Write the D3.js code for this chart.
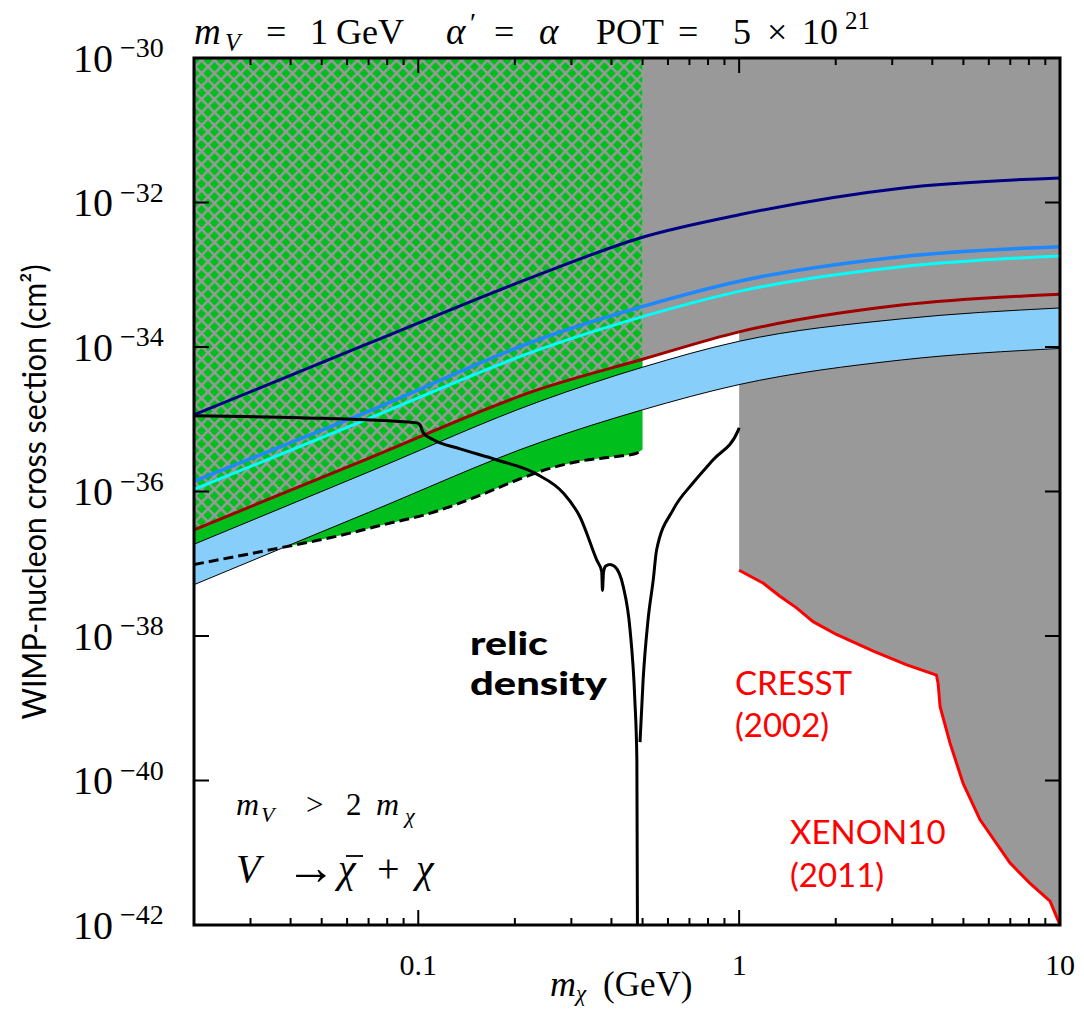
<!DOCTYPE html>
<html>
<head>
<meta charset="utf-8">
<script src="https://cdn.jsdelivr.net/npm/d3@7"></script>
<style>
body { margin: 0; background: #fff; }
svg { display: block; }
</style>
</head>
<body>
<div id="chart"></div>
<script>
// sensitivity curves, sampled at the same masses (GeV)
const massPts = [0.02, 0.07, 0.24, 0.5, 1, 3.2, 10]
const navyLine = [1.15e-35, 1.12e-34, 1.02e-33, 3.31e-33, 6.76e-33, 1.58e-32, 2.19e-32]
const blueLine = [1.38e-36, 1.29e-35, 1.29e-34, 3.63e-34, 8.13e-34, 1.78e-33, 2.45e-33]
const cyanLine = [1.07e-36, 1.02e-35, 9.33e-35, 2.63e-34, 5.89e-34, 1.29e-33, 1.82e-33]
const redLine = [2.95e-37, 2.88e-36, 2.63e-35, 6.76e-35, 1.62e-34, 3.80e-34, 5.37e-34]
const bandTop = [1.86e-37, 1.86e-36, 1.78e-35, 5.25e-35, 1.20e-34, 2.45e-34, 3.47e-34]
const bandBottom = [5.13e-38, 5.13e-37, 4.79e-36, 1.35e-35, 3.02e-35, 6.61e-35, 9.55e-35]

// lower (dashed) edge of the green region
const greenMass = [0.02, 0.0371, 0.0557, 0.0778, 0.109, 0.152, 0.212, 0.257, 0.319, 0.404, 0.479, 0.5]
const greenLow = [9.77e-38, 1.66e-37, 2.40e-37, 3.47e-37, 5.01e-37, 8.51e-37, 1.55e-36, 2.09e-36, 2.63e-36, 3.02e-36, 3.39e-36, 3.80e-36]

// CRESST / XENON10 limit
const cresstMass = [1, 1.19, 1.34, 1.51, 1.70, 2.01, 2.62, 3.33, 4.12, 4.17, 4.23, 4.54, 4.99, 5.63, 6.98, 8.05, 9.31, 10]
const cresstSigma = [8.13e-38, 5.37e-38, 3.55e-38, 2.45e-38, 1.58e-38, 1.05e-38, 6.17e-39, 3.98e-39, 2.88e-39, 2.2e-39, 1.05e-39, 3.31e-40, 9.12e-41, 2.88e-41, 7.24e-42, 3.80e-42, 2.14e-42, 1e-42]

// relic density curve, two branches around the resonance
const relicMass = [0.02, 0.0428, 0.0989, 0.1013, 0.1037, 0.111, 0.135, 0.175, 0.234, 0.283, 0.319, 0.360, 0.373, 0.375, 0.378, 0.384, 0.396, 0.410, 0.435, 0.457, 0.473, 0.480, 0.482]
const relicSigma = [1.12e-35, 1.05e-35, 8.91e-36, 8.32e-36, 6.46e-36, 5.25e-36, 3.89e-36, 2.75e-36, 1.74e-36, 9.55e-37, 4.47e-37, 1.12e-37, 7.76e-38, 4.27e-38, 7.76e-38, 9.33e-38, 9.77e-38, 9.12e-38, 4.90e-38, 1.23e-38, 1.32e-39, 1.95e-40, 1e-42]
const relicMass2 = [0.491, 0.502, 0.520, 0.540, 0.553, 0.623, 0.719, 0.830, 0.994, 1.0]
const relicSigma2 = [3.39e-40, 2.45e-39, 1.66e-38, 6.03e-38, 1.55e-37, 5.62e-37, 1.32e-36, 2.75e-36, 7.08e-36, 7.6e-36]

const xTickVals = [0.1, 1, 10]
const xTickLabels = ["0.1", "1", "10"]
const yTickExps = [-30, -32, -34, -36, -38, -40, -42]

const width = 1084
const height = 1010
const margin = { left: 194, right: 24, top: 58, bottom: 85 }

const x = d3.scaleLog().domain([0.02, 10]).range([margin.left, width - margin.right])
const y = d3.scaleLog().domain([1e-42, 1e-30]).range([height - margin.bottom, margin.top])

const zip = (ms, ss) => ms.map((m, i) => [m, ss[i]])

let svg = d3.select("#chart")
  .append("svg")
  .attr("width", width)
  .attr("height", height)

let defs = svg.append("defs")
defs.append("clipPath").attr("id", "plot")
  .append("rect")
  .attr("x", x(0.02)).attr("y", y(1e-30))
  .attr("width", x(10) - x(0.02)).attr("height", y(1e-42) - y(1e-30))
defs.append("clipPath").attr("id", "hatchClip")
  .append("rect")
  .attr("x", x(0.02)).attr("y", 0)
  .attr("width", x(0.5) - x(0.02)).attr("height", height)
defs.append("clipPath").attr("id", "greyClip")
  .append("rect")
  .attr("x", x(0.5)).attr("y", 0)
  .attr("width", x(1) - x(0.5) + 2).attr("height", height)

const s = 13 / Math.SQRT2
let pat = defs.append("pattern")
  .attr("id", "hatch")
  .attr("patternUnits", "userSpaceOnUse")
  .attr("width", s).attr("height", s)
  .attr("patternTransform", "rotate(45)")
pat.append("rect").attr("width", s).attr("height", s).attr("fill", "#00bf1c")
pat.append("rect").attr("width", s).attr("height", 2.5).attr("fill", "#999999")
pat.append("rect").attr("width", 2.5).attr("height", s).attr("fill", "#999999")

const line = d3.line().x(d => x(d[0])).y(d => y(d[1])).curve(d3.curveMonotoneX)
const areaTop = d3.area().x(d => x(d[0])).y0(y(1e-30)).y1(d => y(d[1])).curve(d3.curveMonotoneX)

let g = svg.append("g").attr("clip-path", "url(#plot)")

// green region
g.append("path")
  .attr("d", areaTop(zip(greenMass, greenLow)))
  .attr("fill", "#00bf1c")

// excluded region above the dark red line
g.append("path")
  .attr("d", areaTop(zip(massPts, redLine)))
  .attr("fill", "url(#hatch)")
  .attr("clip-path", "url(#hatchClip)")
g.append("path")
  .attr("d", areaTop(zip(massPts, redLine)))
  .attr("fill", "#999999")
  .attr("clip-path", "url(#greyClip)")
g.append("path")
  .attr("d", d3.area().x(d => x(d[0])).y0(y(1e-30)).y1(d => y(d[1]))(zip(cresstMass, cresstSigma)))
  .attr("fill", "#999999")

// blue band
const band = massPts.map((m, i) => [m, bandBottom[i], bandTop[i]])
g.append("path")
  .attr("d", d3.area().x(d => x(d[0])).y0(d => y(d[1])).y1(d => y(d[2])).curve(d3.curveMonotoneX)(band))
  .attr("fill", "#87cefa")
;[bandTop, bandBottom].forEach(arr => {
  g.append("path")
    .attr("d", line(zip(massPts, arr)))
    .attr("fill", "none")
    .attr("stroke", "#000")
    .attr("stroke-width", 1)
})

g.append("path")
  .attr("d", line(zip(greenMass, greenLow)))
  .attr("fill", "none")
  .attr("stroke", "#000")
  .attr("stroke-width", 3)
  .attr("stroke-dasharray", "10,5")

const curves = [
  { data: redLine, color: "#a00000", w: 3 },
  { data: blueLine, color: "#1e88ff", w: 3.5 },
  { data: cyanLine, color: "#00ffff", w: 3 },
  { data: navyLine, color: "#000080", w: 3 }
]
curves.forEach(c => {
  g.append("path")
    .attr("d", line(zip(massPts, c.data)))
    .attr("fill", "none")
    .attr("stroke", c.color)
    .attr("stroke-width", c.w)
})

;[zip(relicMass, relicSigma), zip(relicMass2, relicSigma2)].forEach(d => {
  g.append("path")
    .attr("d", line(d))
    .attr("fill", "none")
    .attr("stroke", "#000")
    .attr("stroke-width", 3)
})

g.append("path")
  .attr("d", d3.line().x(d => x(d[0])).y(d => y(d[1]))(zip(cresstMass, cresstSigma)))
  .attr("fill", "none")
  .attr("stroke", "#ff0000")
  .attr("stroke-width", 3)

// frame + ticks
let axes = svg.append("g").attr("stroke", "#000")
axes.append("rect")
  .attr("x", x(0.02)).attr("y", y(1e-30))
  .attr("width", x(10) - x(0.02)).attr("height", y(1e-42) - y(1e-30))
  .attr("fill", "none").attr("stroke-width", 3)

x.ticks().forEach(t => {
  const major = Math.abs(Math.log10(t) - Math.round(Math.log10(t))) < 1e-9
  const len = major ? 15 : 7
  axes.append("line").attr("x1", x(t)).attr("x2", x(t))
    .attr("y1", y(1e-42)).attr("y2", y(1e-42) - len).attr("stroke-width", 2)
  axes.append("line").attr("x1", x(t)).attr("x2", x(t))
    .attr("y1", y(1e-30)).attr("y2", y(1e-30) + len).attr("stroke-width", 2)
})
yTickExps.forEach(e => {
  const v = Math.pow(10, e)
  axes.append("line").attr("x1", x(0.02)).attr("x2", x(0.02) + 15)
    .attr("y1", y(v)).attr("y2", y(v)).attr("stroke-width", 2)
  axes.append("line").attr("x1", x(10)).attr("x2", x(10) - 15)
    .attr("y1", y(v)).attr("y2", y(v)).attr("stroke-width", 2)
})

const serif = "'Liberation Serif', 'Times New Roman', serif"
const sans = "Lato, 'Open Sans', sans-serif"

function txt(px, py, str, size, opts) {
  opts = opts || {}
  return svg.append("text")
    .attr("x", px).attr("y", py)
    .attr("font-family", opts.family || serif)
    .attr("font-size", size)
    .attr("font-style", opts.italic ? "italic" : "normal")
    .attr("font-weight", opts.weight || "normal")
    .attr("fill", opts.color || "#000")
    .attr("text-anchor", opts.anchor || "start")
    .text(str)
}

// y tick labels
yTickExps.forEach(e => {
  const ty = y(Math.pow(10, e))
  txt(73, ty + 13.5, "10", 40)
  txt(120, ty - 1, "\u2212" + Math.abs(e), 28)
})

// x tick labels
xTickVals.forEach((v, i) => {
  txt(x(v), 975, xTickLabels[i], 30, { anchor: "middle" })
})

// x axis title
txt(550, 996, "m", 36, { italic: true })
txt(576, 1001, "\u03c7", 23, { italic: true })
txt(603, 996, "(GeV)", 35)

// y axis title
svg.append("text")
  .attr("transform", "translate(46,492) rotate(-90)")
  .attr("text-anchor", "middle")
  .attr("font-family", sans)
  .attr("font-size", 32)
  .attr("textLength", 455)
  .attr("lengthAdjust", "spacingAndGlyphs")
  .text("WIMP-nucleon cross section (cm\u00b2)")

// title
txt(194, 44, "m", 37, { italic: true })
txt(225, 51, "V", 25, { italic: true })
txt(266, 44, "=", 36)
txt(310, 44, "1", 36)
txt(336, 44, "GeV", 36)
txt(446, 44, "\u03b1", 37, { italic: true })
txt(470, 32, "\u2032", 28)
txt(494, 44, "=", 36)
txt(539, 44, "\u03b1", 37, { italic: true })
txt(596, 44, "POT", 36)
txt(678, 44, "=", 36)
txt(733, 44, "5", 36)
txt(767, 44, "\u00d7", 36)
txt(802, 44, "10", 36)
txt(845, 29, "21", 25)

// annotations
txt(236, 815, "m", 32, { italic: true })
txt(261, 822, "V", 22, { italic: true })
txt(306, 815, ">", 31)
txt(346, 815, "2", 31)
txt(376, 815, "m", 32, { italic: true })
txt(405, 823, "\u03c7", 22, { italic: true })

txt(236, 882, "V", 40, { italic: true })
txt(286, 884, "\u2192", 50)
txt(338, 882, "\u03c7", 40, { italic: true })
svg.append("line")
  .attr("x1", 346).attr("x2", 363)
  .attr("y1", 856).attr("y2", 856)
  .attr("stroke", "#000").attr("stroke-width", 1.8)
txt(377, 882, "+", 40)
txt(416, 882, "\u03c7", 40, { italic: true })

txt(470, 655, "relic", 32, { family: sans, weight: 900 }).attr("textLength", 78).attr("lengthAdjust", "spacingAndGlyphs")
txt(470, 695, "density", 32, { family: sans, weight: 900 }).attr("textLength", 137).attr("lengthAdjust", "spacingAndGlyphs")

txt(735, 695, "CRESST", 33, { family: sans, color: "#ff0000" })
txt(735, 737, "(2002)", 33, { family: sans, color: "#ff0000" })
txt(790, 844, "XENON10", 33, { family: sans, color: "#ff0000" })
txt(790, 887, "(2011)", 33, { family: sans, color: "#ff0000" })
</script>
</body>
</html>
